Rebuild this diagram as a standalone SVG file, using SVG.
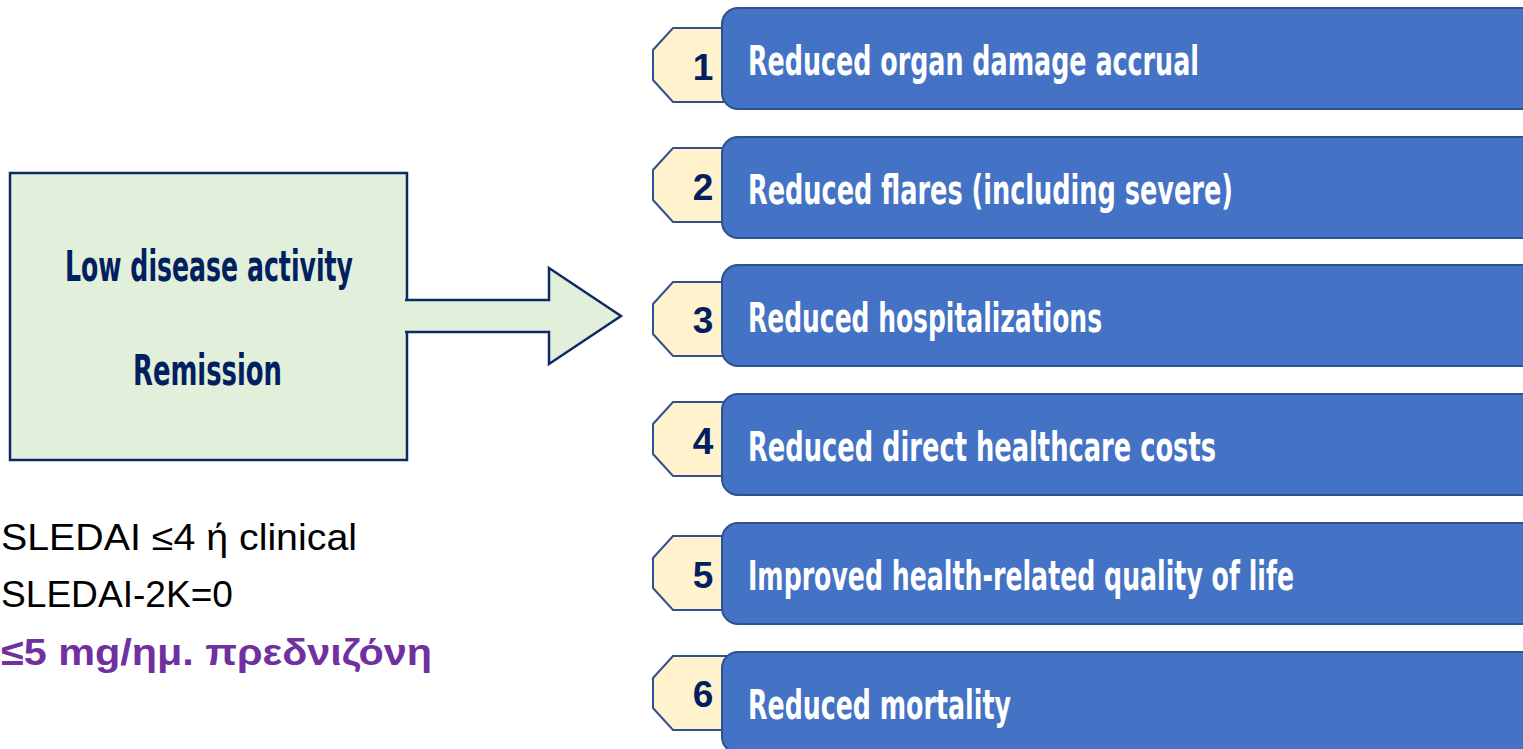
<svg xmlns="http://www.w3.org/2000/svg" width="1523" height="749" viewBox="0 0 1523 749">
  <style>
    .cond { font-family: "DejaVu Sans", "Liberation Sans", sans-serif; font-weight: bold; font-stretch: condensed; }
    .box { fill: #E2EFDA; stroke: #0E2A66; stroke-width: 2.5; }
    .box-label { fill: #002060; font-size: 42px; }
    .bar { fill: #4472C4; stroke: #2F528F; stroke-width: 2; }
    .bar-label { fill: #FFFFFF; font-size: 40px; }
    .tab { fill: #FFF2CC; stroke: #2F528F; stroke-width: 2; stroke-linejoin: miter; }
    .num { font-family: "Liberation Sans", Arial, sans-serif; font-weight: bold; font-size: 37px; fill: #002060; text-anchor: middle; }
    .note { font-family: "Liberation Sans", Arial, sans-serif; font-size: 37px; fill: #000000; }
    .note-em { font-family: "Liberation Sans", Arial, sans-serif; font-size: 37px; font-weight: bold; fill: #7030A0; }
  </style>

  <!-- Source box -->
  <g id="state-box">
    <rect class="box" x="10" y="173" width="397" height="287"/>
    <text class="cond box-label" x="65" y="281" textLength="288" lengthAdjust="spacingAndGlyphs">Low disease activity</text>
    <text class="cond box-label" x="133" y="385" textLength="149" lengthAdjust="spacingAndGlyphs">Remission</text>
  </g>

  <!-- Block arrow leading to the outcomes -->
  <g id="connectors">
    <path d="M405,300 L549,300 L549,268 L621,316 L549,364 L549,332 L405,332" fill="#E2EFDA" stroke="#0E2A66" stroke-width="2.5" stroke-linejoin="miter"/>
  </g>

  <!-- Definition notes -->
  <g id="definitions">
    <text class="note" x="1" y="550" textLength="356" lengthAdjust="spacingAndGlyphs">SLEDAI ≤4 ή clinical</text>
    <text class="note" x="1" y="607" textLength="232" lengthAdjust="spacingAndGlyphs">SLEDAI-2K=0</text>
    <text class="note-em" x="1" y="665" textLength="431" lengthAdjust="spacingAndGlyphs">≤5 mg/ημ. πρεδνιζόνη</text>
  </g>

  <!-- Outcome rows: numbered tab + blue bar -->
  <g id="outcome-1">
    <path class="tab" d="M738,28 L673,28 L653,50 L653,80 L673,102 L738,102 Z"/>
    <text class="num" x="703" y="80">1</text>
    <rect class="bar" x="722" y="8" width="830" height="101" rx="16"/>
    <text class="cond bar-label" x="748" y="75" textLength="451" lengthAdjust="spacingAndGlyphs">Reduced organ damage accrual</text>
  </g>

  <g id="outcome-2">
    <path class="tab" d="M738,148 L673,148 L653,170 L653,200 L673,222 L738,222 Z"/>
    <text class="num" x="703" y="200">2</text>
    <rect class="bar" x="722" y="137" width="830" height="101" rx="16"/>
    <text class="cond bar-label" x="748" y="204" textLength="485" lengthAdjust="spacingAndGlyphs">Reduced flares (including severe)</text>
  </g>

  <g id="outcome-3">
    <path class="tab" d="M738,282 L673,282 L653,304 L653,334 L673,356 L738,356 Z"/>
    <text class="num" x="703" y="333">3</text>
    <rect class="bar" x="722" y="265" width="830" height="101" rx="16"/>
    <text class="cond bar-label" x="748" y="332" textLength="354" lengthAdjust="spacingAndGlyphs">Reduced hospitalizations</text>
  </g>

  <g id="outcome-4">
    <path class="tab" d="M738,402 L673,402 L653,424 L653,454 L673,476 L738,476 Z"/>
    <text class="num" x="703" y="454">4</text>
    <rect class="bar" x="722" y="394" width="830" height="101" rx="16"/>
    <text class="cond bar-label" x="748" y="461" textLength="468" lengthAdjust="spacingAndGlyphs">Reduced direct healthcare costs</text>
  </g>

  <g id="outcome-5">
    <path class="tab" d="M738,536 L673,536 L653,558 L653,588 L673,610 L738,610 Z"/>
    <text class="num" x="703" y="588">5</text>
    <rect class="bar" x="722" y="523" width="830" height="101" rx="16"/>
    <text class="cond bar-label" x="748" y="590" textLength="546" lengthAdjust="spacingAndGlyphs">Improved health-related quality of life</text>
  </g>

  <g id="outcome-6">
    <path class="tab" d="M738,656 L673,656 L653,678 L653,708 L673,730 L738,730 Z"/>
    <text class="num" x="703" y="707">6</text>
    <rect class="bar" x="722" y="652" width="830" height="101" rx="16"/>
    <text class="cond bar-label" x="748" y="719" textLength="263" lengthAdjust="spacingAndGlyphs">Reduced mortality</text>
  </g>
</svg>
